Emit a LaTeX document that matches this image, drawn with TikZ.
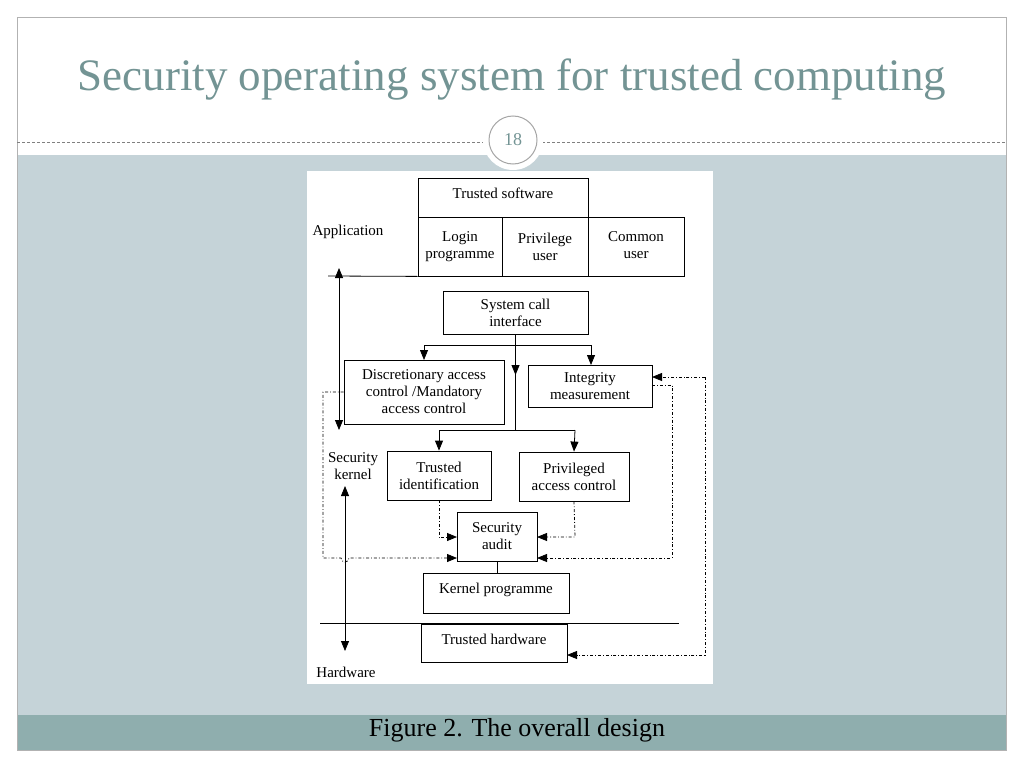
\documentclass[tikz,border=0pt]{standalone}
\usepackage{fontspec}
\setmainfont{Liberation Serif}
\usetikzlibrary{arrows.meta}
\definecolor{bgb}{HTML}{C5D3D8}
\definecolor{barc}{HTML}{8FAEAE}
\definecolor{titc}{HTML}{739494}
\begin{document}
\begin{tikzpicture}[x=1pt,y=-1pt,
  bx/.style={draw,line width=0.8pt,inner sep=0pt,font=\fontsize{15}{17}\selectfont,align=center},
  lbl/.style={font=\fontsize{15}{17}\selectfont,align=center,inner sep=0pt},
  ar/.style={-{Triangle[length=10pt,width=8pt]},line width=0.8pt},
  dd/.style={ar,dash dot,line width=0.8pt}]
\useasboundingbox (0,0) rectangle (1024,768);
\fill[white] (0,0) rectangle (1024,768);
\fill[bgb] (17,155) rectangle (1006,715);
\fill[barc] (17,715) rectangle (1006,750);
\draw[gray!60] (17,17) rectangle (1006,750);
\draw[gray,densely dashed] (17,142) -- (1006,142);
\node[circle,fill=white,minimum size=60pt] at (513,140) {};
\node[circle,draw=gray!70,line width=1pt,fill=white,minimum size=48pt,font=\fontsize{18}{20}\selectfont,text=titc] (num) at (513,140) {18};
\node[text=titc,font=\fontsize{45}{48}\selectfont] (title) at (512,80) {Security operating system for trusted computing};
\node[font=\fontsize{26}{30}\selectfont] (cap) at (517,730) {Figure 2. The overall design};
\fill[white] (307,171) rectangle (713,684);
% boxes
\node[bx,minimum width=170pt,minimum height=39pt] (ts) at (503,197.5) {\raisebox{8pt}{Trusted software}};
\node[bx,minimum width=84pt,minimum height=59pt] (lp) at (460,246.5) {Login\\programme};
\node[bx,minimum width=86pt,minimum height=59pt] (pu) at (545,246.5) {Privilege\\user};
\node[bx,minimum width=96pt,minimum height=59pt] (cu) at (636,246.5) {\raisebox{6pt}{\begin{tabular}{@{}c@{}}Common\\user\end{tabular}}};
\node[bx,minimum width=145pt,minimum height=43pt] (sc) at (515.5,312.5) {System call\\interface};
\node[bx,minimum width=160pt,minimum height=64pt] (dac) at (424,392) {Discretionary access\\control /Mandatory\\access control};
\node[bx,minimum width=124pt,minimum height=42pt] (im) at (590,386) {Integrity\\measurement};
\node[bx,minimum width=104pt,minimum height=49pt] (ti) at (439,475.5) {Trusted\\identification};
\node[bx,minimum width=110pt,minimum height=49pt] (pac) at (574,476.5) {Privileged\\access control};
\node[bx,minimum width=80pt,minimum height=49pt] (sa) at (497,536.5) {Security\\audit};
\node[bx,minimum width=146pt,minimum height=40pt] (kp) at (496,593) {\raisebox{10pt}{Kernel programme}};
\node[bx,minimum width=146pt,minimum height=38pt] (th) at (494,643) {\raisebox{8pt}{Trusted hardware}};
% labels
\node[lbl] (app) at (348,232) {Application};
\node[lbl] (sk) at (353,466) {Security\\kernel};
\node[lbl] (hw) at (346,672) {Hardware};
% lines
\coordinate (l1) at (328,276);
\draw[line width=0.8pt] (l1) -- (lp.south west);
\draw[line width=0.8pt] (320,623) -- (679,623);
\draw[{Triangle[length=10pt,width=8pt]}-{Triangle[length=10pt,width=8pt]},line width=0.8pt] (339,268) -- (339,430);
\draw[{Triangle[length=10pt,width=8pt]}-{Triangle[length=10pt,width=8pt]},line width=0.8pt] (345,486) -- (345,651);
% system call tree
\draw[line width=0.8pt] (sc.south) -- (515.5,430);
\draw[ar] (515.5,345) -- (515.5,375);
\draw[line width=0.8pt] (424,345) -- (591,345);
\draw[ar] (424,345) -- (424,360);
\draw[ar] (591,345) -- (591,365);
\draw[line width=0.8pt] (439,430) -- (575,430);
\draw[ar] (439,430) -- (ti.north);
\draw[ar] (575,430) -- (pac.north);
\draw[line width=0.8pt] (sa.south) -- (sa.south |- kp.north);
% dash-dot
\draw[dd] (dac.west |- 0,392) -- (323,392) -- (323,558) -- (341,558) arc (180:0:4) -- (457,558);
\draw[dd] (ti.south) -- (439,537) -- (457,537);
\draw[dd] (pac.south) -- (575,537) -- (537,537);
\draw[dd] (652,385) -- (672,385) -- (672,558) -- (537,558);
\draw[dd] (705,377) -- (652,377);
\draw[dd] (705,377) -- (705,655) -- (567,655);
\end{tikzpicture}
\end{document}
